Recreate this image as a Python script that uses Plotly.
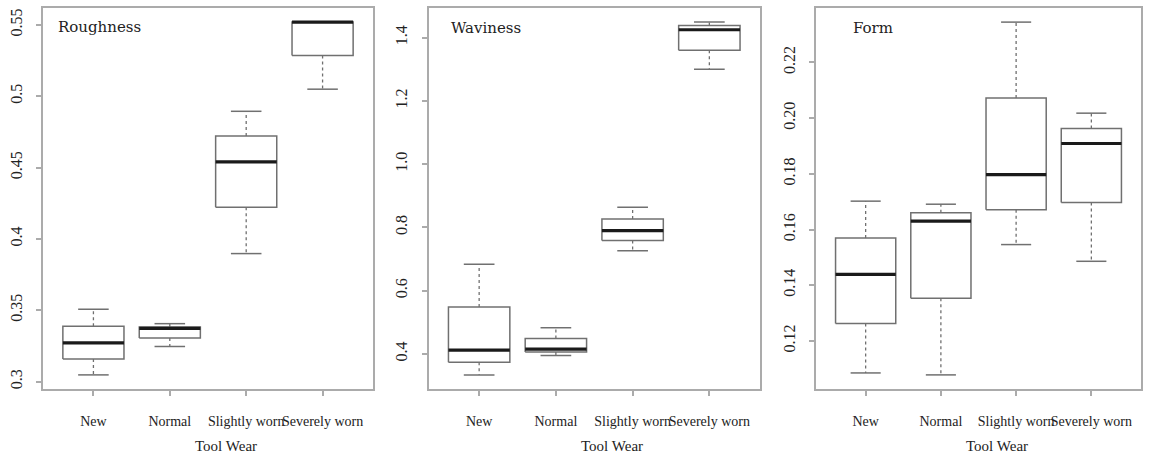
import plotly.graph_objects as go

categories = ["New", "Normal", "Slightly worn", "Severely worn"]
panel_titles = ["Roughness", "Waviness", "Form"]
x_title = "Tool Wear"

# Roughness box statistics
rough_lower = [0.3047, 0.3246, 0.3897, 0.5049]
rough_q1 = [0.3158, 0.3306, 0.4221, 0.5285]
rough_median = [0.3272, 0.3373, 0.4540, 0.5519]
rough_q3 = [0.3387, 0.3383, 0.4721, 0.5519]
rough_upper = [0.3507, 0.3406, 0.4894, 0.5519]

# Waviness box statistics
wav_lower = [0.3333, 0.3946, 0.7260, 1.3003]
wav_q1 = [0.3736, 0.4054, 0.7587, 1.3606]
wav_median = [0.4117, 0.4150, 0.7895, 1.4254]
wav_q3 = [0.5480, 0.4486, 0.8264, 1.4390]
wav_upper = [0.6835, 0.4825, 0.8635, 1.4495]

# Form box statistics
form_lower = [0.1085, 0.1078, 0.1546, 0.1486]
form_q1 = [0.1263, 0.1353, 0.1671, 0.1697]
form_median = [0.1439, 0.1630, 0.1797, 0.1909]
form_q3 = [0.1570, 0.1660, 0.2072, 0.1963]
form_upper = [0.1702, 0.1691, 0.2345, 0.2018]

rough_ticks = [0.3, 0.35, 0.4, 0.45, 0.5, 0.55]
rough_ticktext = ["0.3", "0.35", "0.4", "0.45", "0.5", "0.55"]
wav_ticks = [0.4, 0.6, 0.8, 1.0, 1.2, 1.4]
wav_ticktext = ["0.4", "0.6", "0.8", "1.0", "1.2", "1.4"]
form_ticks = [0.12, 0.14, 0.16, 0.18, 0.20, 0.22]
form_ticktext = ["0.12", "0.14", "0.16", "0.18", "0.20", "0.22"]

panels = [
    (rough_lower, rough_q1, rough_median, rough_q3, rough_upper, rough_ticks, rough_ticktext),
    (wav_lower, wav_q1, wav_median, wav_q3, wav_upper, wav_ticks, wav_ticktext),
    (form_lower, form_q1, form_median, form_q3, form_upper, form_ticks, form_ticktext),
]

W, H = 1151, 456
x_domains_px = [(43, 373), (428.5, 760), (816, 1141)]
y_top_px, y_bot_px = 8, 389
title_px = [(56, 27), (448.5, 28), (851, 28)]

BOX_HALF = 0.4
CAP_HALF = 0.2
box_color = "#707070"
frame_color = "#ababab"
serif = "Liberation Serif"

fig = go.Figure()

for p, (lo, q1, med, q3, up, tv, tt) in enumerate(panels):
    xa = "x" if p == 0 else f"x{p+1}"
    ya = "y" if p == 0 else f"y{p+1}"
    pos = list(range(1, len(categories) + 1))

    bx, by, wx, wy, cx, cy, mx, my = [], [], [], [], [], [], [], []
    for i, c in enumerate(pos):
        bx += [c - BOX_HALF, c + BOX_HALF, c + BOX_HALF, c - BOX_HALF, c - BOX_HALF, None]
        by += [q1[i], q1[i], q3[i], q3[i], q1[i], None]
        wx += [c, c, None, c, c, None]
        wy += [q3[i], up[i], None, q1[i], lo[i], None]
        cx += [c - CAP_HALF, c + CAP_HALF, None, c - CAP_HALF, c + CAP_HALF, None]
        cy += [up[i], up[i], None, lo[i], lo[i], None]
        mx += [c - BOX_HALF, c + BOX_HALF, None]
        my += [med[i], med[i], None]

    common = dict(xaxis=xa, yaxis=ya, mode="lines", showlegend=False, hoverinfo="skip")
    fig.add_trace(go.Scatter(x=wx, y=wy, line=dict(color=box_color, width=1.3, dash="3px,3px"), **common))
    fig.add_trace(go.Scatter(x=cx, y=cy, line=dict(color=box_color, width=1.5), **common))
    fig.add_trace(go.Scatter(x=bx, y=by, line=dict(color=box_color, width=1.5), **common))
    fig.add_trace(go.Scatter(x=mx, y=my, line=dict(color="#1a1a1a", width=3.2), **common))

    # data range expanded by 4% like R defaults
    dmin, dmax = min(lo), max(up)
    span = dmax - dmin
    yr = [dmin - 0.04 * span, dmax + 0.04 * span]

    x0, x1 = x_domains_px[p]
    xkey = "xaxis" if p == 0 else f"xaxis{p+1}"
    ykey = "yaxis" if p == 0 else f"yaxis{p+1}"
    fig.layout[xkey] = dict(
        domain=[x0 / W, x1 / W], anchor=ya, range=[0.34, 4.66],
        tickvals=pos, ticktext=categories, ticks="outside", ticklen=5,
        tickcolor=frame_color, tickwidth=1.5, showline=True, mirror=True,
        linecolor=frame_color, linewidth=2, showgrid=False, zeroline=False,
        tickangle=0,
        tickfont=dict(family=serif, size=14, color="#222"), ticklabelstandoff=13,
        fixedrange=True,
    )
    fig.layout[ykey] = dict(
        domain=[1 - y_bot_px / H, 1 - y_top_px / H], anchor=xa, range=yr,
        tickvals=tv, ticktext=tt, ticks="outside", ticklen=5,
        tickcolor=frame_color, tickwidth=1.5, showline=True, mirror=True,
        linecolor=frame_color, linewidth=2, showgrid=False, zeroline=False,
        tickangle=-90, tickfont=dict(family=serif, size=16, color="#222"),
        ticklabelstandoff=8, fixedrange=True,
    )

    tx, ty = title_px[p]
    fig.add_annotation(x=tx / W, y=1 - ty / H, xref="paper", yref="paper",
                       text=panel_titles[p], showarrow=False, xanchor="left", yanchor="middle",
                       font=dict(family="DejaVu Serif", size=15, color="#222"))
    fig.add_annotation(x=((x0 + x1) / 2 + 18) / W, y=1 - 446 / H, xref="paper", yref="paper",
                       text=x_title, showarrow=False, xanchor="center", yanchor="middle",
                       font=dict(family=serif, size=15, color="#222"))

fig.update_layout(
    width=W, height=H, margin=dict(l=0, r=0, t=0, b=0),
    paper_bgcolor="white", plot_bgcolor="white", showlegend=False,
)

fig.write_html("out.html")
